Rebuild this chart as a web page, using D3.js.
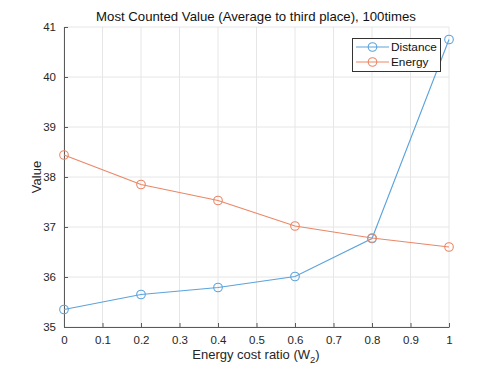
<!DOCTYPE html>
<html><head><meta charset="utf-8">
<script src="https://cdn.jsdelivr.net/npm/d3@7"></script>
<style>
html,body{margin:0;padding:0;background:#fff;}
text{font-family:Arial,"Liberation Sans",Helvetica,sans-serif;}
</style></head>
<body>
<svg id="chart" width="495" height="371"></svg>
<script>
const xValues = [0, 0.2, 0.4, 0.6, 0.8, 1];
const distance = [35.35, 35.65, 35.79, 36.01, 36.77, 40.75];
const energy = [38.44, 37.85, 37.53, 37.02, 36.78, 36.60];
const xTicks = [0, 0.1, 0.2, 0.3, 0.4, 0.5, 0.6, 0.7, 0.8, 0.9, 1];
const yTicks = [35, 36, 37, 38, 39, 40, 41];
const seriesNames = ["Distance", "Energy"];
const seriesColors = ["#5ba3dc", "#ea8766"];

const svg = d3.select("#chart");
const m = {left: 64, right: 46, top: 27, bottom: 44};
const W = 495, H = 371;
const x = d3.scaleLinear().domain([0, 1]).range([m.left, W - m.right]);
const y = d3.scaleLinear().domain([35, 41]).range([H - m.bottom, m.top]);

const axisColor = "#5a5a5a";
// grid
svg.append("g").selectAll("line.gx").data(xTicks).join("line")
  .attr("x1", d => x(d)).attr("x2", d => x(d))
  .attr("y1", y(35)).attr("y2", y(41))
  .attr("stroke", "#e6e6e6").attr("stroke-width", 1);
svg.append("g").selectAll("line.gy").data(yTicks).join("line")
  .attr("y1", d => y(d)).attr("y2", d => y(d))
  .attr("x1", x(0)).attr("x2", x(1))
  .attr("stroke", "#e6e6e6").attr("stroke-width", 1);

// axes (ticks inward)
const xAxis = d3.axisBottom(x).tickValues(xTicks).tickSizeInner(-4).tickSizeOuter(0).tickPadding(9)
  .tickFormat(d => d3.format("~g")(d));
const gx = svg.append("g").attr("transform", `translate(0,${y(35)})`).call(xAxis);
const yAxis = d3.axisLeft(y).tickValues(yTicks).tickSizeInner(-4).tickSizeOuter(0).tickPadding(8)
  .tickFormat(d3.format("d"));
const gy = svg.append("g").attr("transform", `translate(${x(0)},0)`).call(yAxis);
[gx, gy].forEach(g => {
  g.select(".domain").attr("stroke", axisColor).attr("stroke-width", 1);
  g.selectAll(".tick line").attr("stroke", axisColor);
  g.selectAll(".tick text").attr("fill", "#262626").style("font-size", "11.5px")
    .style("font-family", "Arial, 'Liberation Sans', sans-serif");
});

// lines + markers
const data = [distance, energy];
const line = d3.line().x((d, i) => x(xValues[i])).y(d => y(d));
data.forEach((vals, s) => {
  svg.append("path").datum(vals).attr("d", line)
    .attr("fill", "none").attr("stroke", seriesColors[s]).attr("stroke-width", 1.1);
  svg.append("g").selectAll("circle").data(vals).join("circle")
    .attr("cx", (d, i) => x(xValues[i])).attr("cy", d => y(d)).attr("r", 4.3)
    .attr("fill", "none").attr("stroke", seriesColors[s]).attr("stroke-width", 1.1);
});

// title
svg.append("text").attr("x", 256).attr("y", 21).attr("text-anchor", "middle")
  .attr("fill", "#111").style("font-size", "13.2px")
  .text("Most Counted Value (Average to third place), 100times");

// x label
const xl = svg.append("text").attr("x", 256).attr("y", 359).attr("text-anchor", "middle")
  .attr("fill", "#262626").style("font-size", "13px");
xl.append("tspan").text("Energy cost ratio (W");
xl.append("tspan").attr("dy", 4).style("font-size", "9.5px").text("2");
xl.append("tspan").attr("dy", -4).text(")");

// y label
svg.append("text").attr("transform", `translate(41,${y(38)}) rotate(-90)`).attr("text-anchor", "middle")
  .attr("fill", "#262626").style("font-size", "13px").text("Value");

// legend
const lg = svg.append("g");
lg.append("rect").attr("x", 352.5).attr("y", 38.5).attr("width", 88).attr("height", 33)
  .attr("fill", "#fff").attr("stroke", "#333").attr("stroke-width", 1);
seriesNames.forEach((name, i) => {
  const yy = 47 + i * 15;
  lg.append("line").attr("x1", 356).attr("x2", 389).attr("y1", yy).attr("y2", yy)
    .attr("stroke", seriesColors[i]).attr("stroke-width", 1.1);
  lg.append("circle").attr("cx", 372.5).attr("cy", yy).attr("r", 4.3)
    .attr("fill", "none").attr("stroke", seriesColors[i]).attr("stroke-width", 1.1);
  lg.append("text").attr("x", 391).attr("y", yy + 4.2).attr("fill", "#111")
    .style("font-size", "11.8px").text(name);
});
</script>
</body></html>
